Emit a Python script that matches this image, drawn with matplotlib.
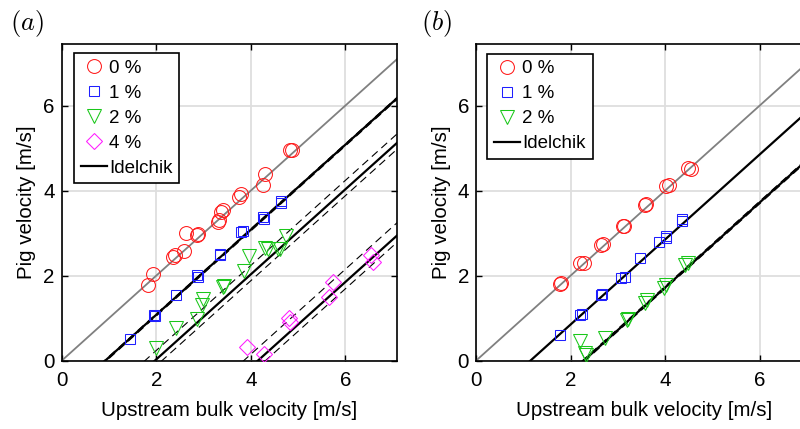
import numpy as np
import matplotlib.pyplot as plt

plt.rcParams['font.family'] = ['Liberation Sans', 'DejaVu Sans']
plt.rcParams['mathtext.fontset'] = 'cm'

# ---- panel (a) data ----
a_x0 = [1.83, 1.94, 2.36, 2.40, 2.58, 2.63, 2.86, 2.89, 3.30, 3.32, 3.37, 3.42, 3.76, 3.79, 4.26, 4.31, 4.84, 4.87]
a_y0 = [1.78, 2.05, 2.45, 2.49, 2.57, 3.00, 2.96, 2.98, 3.27, 3.31, 3.49, 3.55, 3.86, 3.93, 4.14, 4.40, 4.95, 4.96]
a_x1 = [1.45, 1.96, 1.98, 2.42, 2.87, 2.89, 3.34, 3.36, 3.80, 3.84, 4.26, 4.28, 4.63, 4.64]
a_y1 = [0.50, 1.08, 1.04, 1.55, 2.02, 1.98, 2.52, 2.49, 3.02, 3.05, 3.38, 3.34, 3.72, 3.76]
a_x2 = [1.99, 2.42, 2.86, 2.97, 2.99, 3.41, 3.44, 3.85, 3.96, 4.31, 4.37, 4.58, 4.62, 4.74]
a_y2 = [0.29, 0.76, 0.97, 1.31, 1.45, 1.73, 1.75, 2.11, 2.46, 2.65, 2.63, 2.63, 2.62, 2.93]
a_x4 = [3.92, 4.29, 4.80, 4.83, 5.65, 5.75, 6.55, 6.59]
a_y4 = [0.33, 0.16, 1.00, 0.90, 1.51, 1.86, 2.48, 2.33]
# Idelchik lines: v_pig = v - offset, with bands
a_off = [0.92, 1.97, 4.15]
a_band_lo = [0.90, 1.76, 3.85]
a_band_hi = [0.95, 2.12, 4.31]

# ---- panel (b) data ----
b_x0 = [1.78, 1.79, 2.21, 2.28, 2.65, 2.68, 3.10, 3.14, 3.57, 3.60, 4.02, 4.09, 4.49, 4.54]
b_y0 = [1.81, 1.83, 2.29, 2.31, 2.73, 2.75, 3.16, 3.18, 3.66, 3.68, 4.12, 4.14, 4.53, 4.50]
b_x1 = [1.77, 2.21, 2.24, 2.64, 2.67, 3.06, 3.15, 3.47, 3.87, 4.01, 4.03, 4.35, 4.36]
b_y1 = [0.61, 1.07, 1.11, 1.54, 1.58, 1.94, 1.98, 2.41, 2.80, 2.93, 2.89, 3.29, 3.33]
b_x2 = [2.20, 2.30, 2.33, 2.72, 3.19, 3.21, 3.58, 3.61, 3.97, 4.01, 4.43, 4.48]
b_y2 = [0.47, 0.19, 0.14, 0.53, 0.95, 0.98, 1.36, 1.42, 1.72, 1.77, 2.26, 2.31]
b_off = [1.15, 2.28]
b_band_lo = [None, 2.25]
b_band_hi = [None, 2.31]

ticks = [0, 2, 4, 6]
xmax = 7.1
ymax = 7.45
red = (1, 0.1, 0.1)
blue = (0.12, 0.12, 1)
green = (0.1, 0.78, 0.1)
magenta = (1, 0.1, 1)
dash = (0, (7, 4.5))
fs = 14.8


def style_axes(ax):
    ax.set_xlim(0, xmax)
    ax.set_ylim(0, ymax)
    ax.set_xticks(ticks)
    ax.set_yticks(ticks)
    ax.grid(True, color='#dedede', linewidth=1.3)
    ax.set_axisbelow(True)
    ax.tick_params(direction='in', top=True, right=True, length=4, width=1,
                   labelsize=fs)
    ax.tick_params(axis='x', pad=7.5)
    ax.tick_params(axis='y', pad=5)
    for s in ax.spines.values():
        s.set_linewidth(1.2)
    ax.set_xlabel('Upstream bulk velocity [m/s]', fontsize=fs, labelpad=8)
    ax.set_ylabel('Pig velocity [m/s]', fontsize=fs, labelpad=5)


def idelchik(ax, off, lo, hi, label=None):
    xx = np.array([0, xmax])
    ax.plot(xx, xx - off, color='k', lw=1.6, label=label, zorder=2)
    if lo is not None:
        ax.plot(xx, xx - lo, color='k', lw=0.8, linestyle=dash, zorder=2)
        ax.plot(xx, xx - hi, color='k', lw=0.8, linestyle=dash, zorder=2)


fig = plt.figure(figsize=(8, 4.29), dpi=100)
ax1 = fig.add_axes([0.0771, 0.1592, 0.4195, 0.7382])
ax2 = fig.add_axes([0.595, 0.1592, 0.4195, 0.7382])

xx = np.array([0, xmax])
for ax in (ax1, ax2):
    ax.plot(xx, xx, color=(0.5, 0.5, 0.5), lw=1.3, zorder=2)

mk = dict(linestyle='none', markerfacecolor='none', markeredgewidth=0.75, zorder=3)

# panel (a)
h0, = ax1.plot(a_x0, a_y0, marker='o', ms=10, markeredgecolor=red, label='0 %', **mk)
h1, = ax1.plot(a_x1, a_y1, marker='s', ms=7.5, markeredgecolor=blue, label='1 %', **mk)
h2, = ax1.plot(a_x2, a_y2, marker='v', ms=10.5, markeredgecolor=green, label='2 %', **mk)
h4, = ax1.plot(a_x4, a_y4, marker='D', ms=8, markeredgecolor=magenta, label='4 %', **mk)
for i in range(len(a_off)):
    idelchik(ax1, a_off[i], a_band_lo[i], a_band_hi[i])
hl, = ax1.plot([], [], color='k', lw=1.6, label='Idelchik')

# panel (b)
g0, = ax2.plot(b_x0, b_y0, marker='o', ms=10, markeredgecolor=red, label='0 %', **mk)
g1, = ax2.plot(b_x1, b_y1, marker='s', ms=7.5, markeredgecolor=blue, label='1 %', **mk)
g2, = ax2.plot(b_x2, b_y2, marker='v', ms=10.5, markeredgecolor=green, label='2 %', **mk)
for i in range(len(b_off)):
    idelchik(ax2, b_off[i], b_band_lo[i], b_band_hi[i])
gl, = ax2.plot([], [], color='k', lw=1.6, label='Idelchik')

leg_kw = dict(loc='upper left', borderaxespad=0, fontsize=13.5, fancybox=False,
              framealpha=1, edgecolor='k', borderpad=0.35, labelspacing=0.42,
              handlelength=1.4, handletextpad=0.12, numpoints=1)
l1 = ax1.legend(handles=[h0, h1, h2, h4, hl], bbox_to_anchor=(0.037, 0.972), **leg_kw)
l2 = ax2.legend(handles=[g0, g1, g2, gl], bbox_to_anchor=(0.034, 0.97), **leg_kw)
for l in (l1, l2):
    l.get_frame().set_linewidth(1.2)

for ax in (ax1, ax2):
    style_axes(ax)

fig.text(0.034, 0.945, r'$(a)$', fontsize=19, ha='center', va='center')
fig.text(0.546, 0.945, r'$(b)$', fontsize=19, ha='center', va='center')

fig.savefig('out.png', dpi=100)
